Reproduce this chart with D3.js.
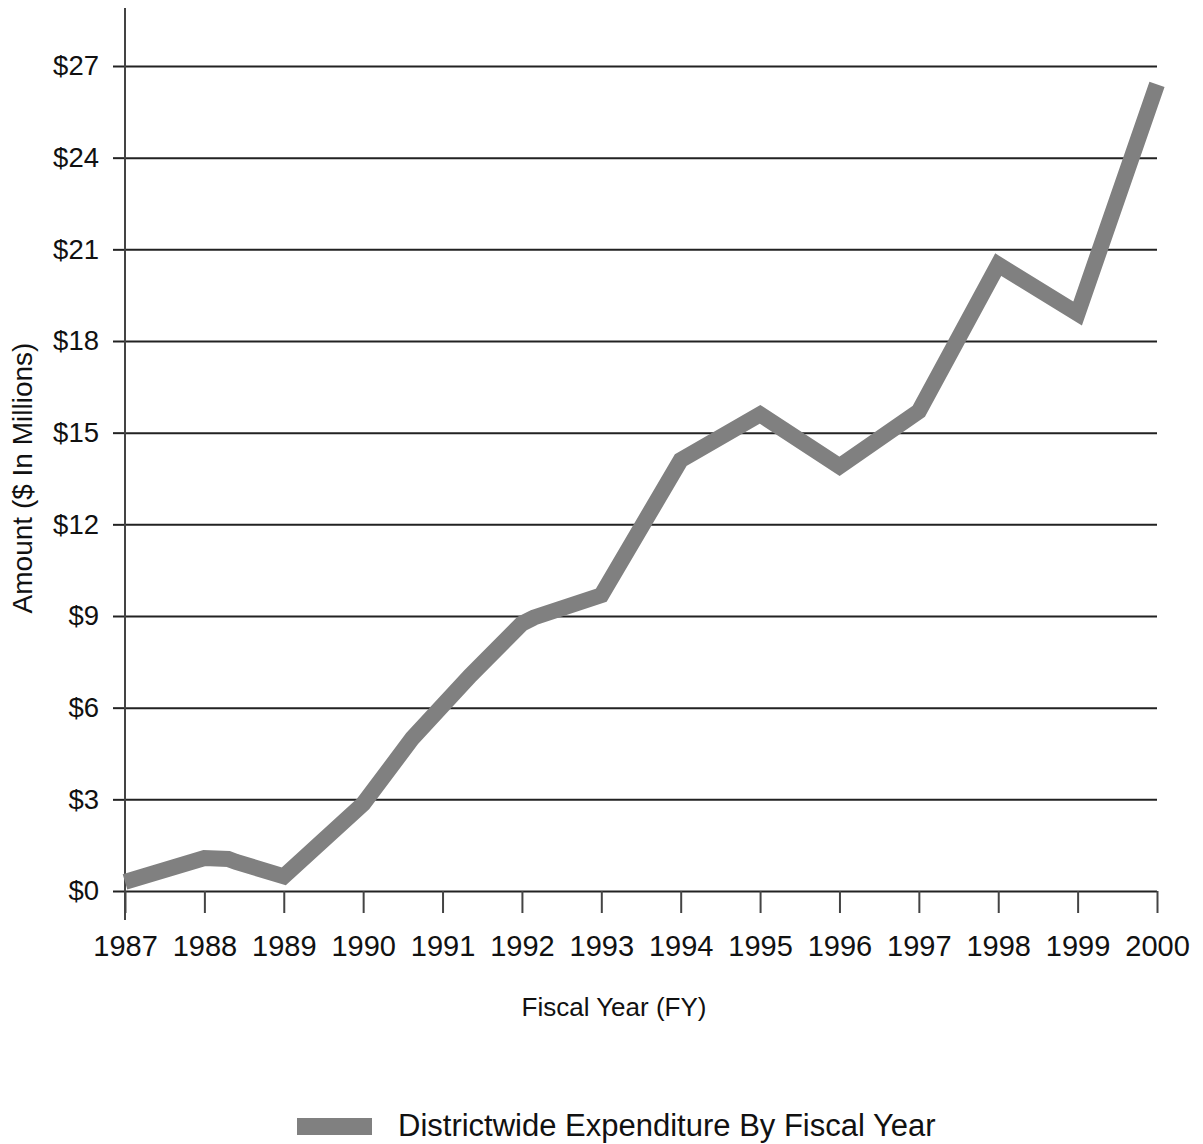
<!DOCTYPE html>
<html>
<head>
<meta charset="utf-8">
<script src="https://cdn.jsdelivr.net/npm/d3@7"></script>
<style>
  html, body { margin: 0; padding: 0; background: #fff; }
  svg { display: block; font-family: "Liberation Sans", Arial, sans-serif; }
</style>
</head>
<body>
<svg id="chart" width="1203" height="1144"></svg>
<script>
// ---- Data ----
const years = [1987, 1988, 1988.3, 1988.4, 1989, 1990, 1990.62, 1991.35, 1992, 1992.15, 1993, 1994, 1995, 1996, 1997, 1998, 1999, 2000];
const amounts = [0.3, 1.08, 1.05, 0.95, 0.48, 2.85, 5.0, 7.05, 8.75, 8.95, 9.68, 14.1, 15.6, 13.9, 15.7, 20.5, 18.9, 26.4];
const xTickYears = [1987, 1988, 1989, 1990, 1991, 1992, 1993, 1994, 1995, 1996, 1997, 1998, 1999, 2000];
const yTickValues = [0, 3, 6, 9, 12, 15, 18, 21, 24, 27];
const seriesName = "Districtwide Expenditure By Fiscal Year";
const xTitle = "Fiscal Year (FY)";
const yTitle = "Amount ($ In Millions)";

// ---- Layout ----
const svg = d3.select("#chart");
const x = d3.scaleLinear().domain([1987, 2000]).range([125, 1157]);
const y = d3.scaleLinear().domain([0, 27]).range([891, 66]);
const lineColor = "#808080";

// Gridlines
const gridG = svg.append("g").attr("transform", `translate(${x(1987)},0)`);
gridG.call(d3.axisLeft(y).tickValues(yTickValues).tickSize(-(x(2000) - x(1987))).tickFormat(""))
  .call(g => g.select(".domain").remove())
  .call(g => g.selectAll("line").attr("stroke", "#222").attr("stroke-width", 2));

// Y axis ticks + labels
const yAxisG = svg.append("g").attr("transform", `translate(${x(1987)},0)`);
yAxisG.call(d3.axisLeft(y).tickValues(yTickValues).tickSize(12).tickPadding(14).tickFormat(d => "$" + d))
  .call(g => g.select(".domain").remove())
  .call(g => g.selectAll("line").attr("stroke", "#222").attr("stroke-width", 2))
  .call(g => g.selectAll("text").attr("font-size", 27.5).attr("fill", "#111")
        .attr("font-family", "'Liberation Sans', Arial, sans-serif"));

// Y axis line
svg.append("line")
  .attr("x1", x(1987)).attr("x2", x(1987))
  .attr("y1", 8).attr("y2", 920)
  .attr("stroke", "#444").attr("stroke-width", 2);

// X axis ticks + labels
const xAxisG = svg.append("g").attr("transform", `translate(0,${y(0)})`);
xAxisG.call(d3.axisBottom(x).tickValues(xTickYears).tickSize(22).tickPadding(22).tickFormat(d3.format("d")))
  .call(g => g.select(".domain").remove())
  .call(g => g.selectAll("line").attr("stroke", "#444").attr("stroke-width", 2))
  .call(g => g.selectAll("text").attr("font-size", 29).attr("fill", "#111")
        .attr("font-family", "'Liberation Sans', Arial, sans-serif"));

// Data line
const data = years.map((yr, i) => ({ yr, v: amounts[i] }));
const line = d3.line().x(d => x(d.yr)).y(d => y(d.v)).curve(d3.curveLinear);
svg.append("path")
  .datum(data)
  .attr("d", line)
  .attr("fill", "none")
  .attr("stroke", lineColor)
  .attr("stroke-width", 16)
  .attr("stroke-linejoin", "miter")
  .attr("stroke-miterlimit", 10)
  .attr("stroke-linecap", "butt");

// Axis titles
svg.append("text")
  .attr("x", 614).attr("y", 1016)
  .attr("text-anchor", "middle")
  .attr("font-size", 26).attr("fill", "#111")
  .text(xTitle);

svg.append("text")
  .attr("transform", "translate(32,478) rotate(-90)")
  .attr("text-anchor", "middle")
  .attr("font-size", 28).attr("fill", "#111")
  .text(yTitle);

// Legend
svg.append("rect")
  .attr("x", 297).attr("y", 1118)
  .attr("width", 75).attr("height", 17)
  .attr("fill", lineColor);
svg.append("text")
  .attr("x", 398).attr("y", 1136)
  .attr("font-size", 31).attr("fill", "#111")
  .text(seriesName);
</script>
</body>
</html>
